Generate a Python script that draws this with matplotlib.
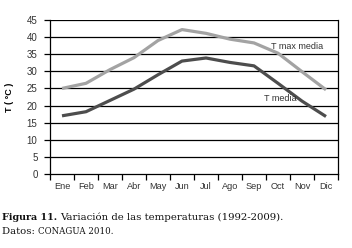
import matplotlib.pyplot as plt
from matplotlib import font_manager

months = ['Ene', 'Feb', 'Mar', 'Abr', 'May', 'Jun', 'Jul', 'Ago', 'Sep', 'Oct', 'Nov', 'Dic']
t_max = [25.0, 26.5, 30.5, 34.0, 39.0, 42.2, 41.1, 39.4, 38.3, 35.3, 29.9, 24.6]
t_media = [17.0, 18.2, 21.5, 24.8, 29.0, 33.0, 33.9, 32.6, 31.6, 26.5, 21.3, 16.8]
y_ticks = list(range(0, 50, 5))

# condensed sans if available
names = {f.name for f in font_manager.fontManager.ttflist}
narrow = 'Liberation Sans Narrow' if 'Liberation Sans Narrow' in names else 'Liberation Sans'

W, H = 352, 248
fig = plt.figure(figsize=(W / 100, H / 100), dpi=100)
ax = fig.add_axes([50 / W, 1 - 174 / H, 288 / W, 154 / H])

x = list(range(len(months)))
ax.plot(x, t_max, color='#a3a3a3', lw=2.3, solid_capstyle='butt', zorder=3)
ax.plot(x, t_media, color='#4d4d4d', lw=2.3, solid_capstyle='butt', zorder=3)

for v in y_ticks[1:]:
    ax.axhline(v, color='black', lw=0.9, zorder=1)

ax.set_xlim(-0.5, 11.5)
ax.set_ylim(0, 45)
ax.set_yticks(y_ticks)
ax.set_yticklabels([str(v) for v in y_ticks], fontsize=7, family=narrow, color='#333333')
ax.set_xticks([i - 0.5 for i in range(13)])
ax.set_xticklabels([])
ax.set_xticks(x, minor=True)
ax.set_xticklabels(months, minor=True, fontsize=6.6, family=narrow, color='#333333')
ax.tick_params(axis='x', which='minor', length=0, pad=6)
ax.tick_params(axis='x', which='major', length=4, width=0.9, direction='out')
ax.tick_params(axis='y', length=4, width=0.9, direction='out', pad=5)
ax.spines['top'].set_visible(False)
for s in ['left', 'right', 'bottom']:
    ax.spines[s].set_linewidth(0.9)

ax.set_ylabel('T ( °C )', fontsize=6.5, family=narrow, fontweight='bold', labelpad=9)

ax.text(8.7, 36.5, 'T max media', fontsize=6.5, family=narrow, color='#333333')
ax.text(8.4, 21.2, 'T media', fontsize=6.5, family=narrow, color='#333333')

serif = 'DejaVu Serif'
t1 = fig.text(2 / W, 1 - 217 / H, 'Figura 11.', fontsize=6.9, family=serif,
              fontweight='bold', va='center', color='#111111')
fig.canvas.draw()
r = fig.canvas.get_renderer()
bb = t1.get_window_extent(r)
fig.text((bb.x1 + 3) / W, 1 - 217 / H, 'Variación de las temperaturas (1992-2009).',
         fontsize=7.3, family=serif, va='center', color='#111111')
t3 = fig.text(2 / W, 1 - 231 / H, 'Datos: ', fontsize=7.3, family=serif,
              va='center', color='#111111')
bb = t3.get_window_extent(r)
fig.text(bb.x1 / W, 1 - 231.5 / H, 'CONAGUA 2010.', fontsize=6.2, family=serif,
         va='center', color='#111111')

fig.savefig('out.png', dpi=100)
